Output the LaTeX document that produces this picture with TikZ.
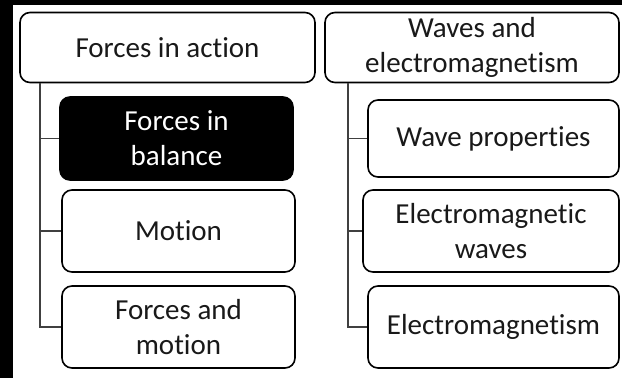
\documentclass[tikz,border=0pt]{standalone}
\usepackage{fontspec}
\setmainfont{Carlito}[Ligatures={NoCommon}]
\begin{document}
\begin{tikzpicture}[x=1pt,y=-1pt,
  box/.style={draw=black,line width=1.6pt,rounded corners=10pt,fill=white,align=center,
    font=\fontsize{29}{35}\selectfont,text=black!90,inner sep=0pt},
  dark/.style={box,fill=black,text=white},
  conn/.style={draw=black!75,line width=1.3pt}]
\useasboundingbox (0,0) rectangle (622,378);
\fill[black] (0,0) rectangle (622,378);
\fill[white] (13,5) rectangle (622,378);
% left column
\node[box,minimum width=295pt,minimum height=70pt] (fa) at (167.5,47.5) {Forces in action};
\node[dark,minimum width=233pt,minimum height=83pt] (fb) at (176.5,138.5) {Forces in\\balance};
\node[box,minimum width=233pt,minimum height=82pt] (mo) at (178.5,231) {Motion};
\node[box,minimum width=233pt,minimum height=82pt] (fm) at (178.5,327) {Forces and\\motion};
% right column
\node[box,minimum width=294pt,minimum height=70pt] (we) at (472,47.5) {Waves and\\electromagnetism};
\node[box,minimum width=251pt,minimum height=77pt] (wp) at (493.5,138.5) {Wave properties};
\node[box,minimum width=256pt,minimum height=82pt] (ew) at (491,231) {Electromagnetic\\waves};
\node[box,minimum width=251pt,minimum height=82pt] (em) at (493.5,327) {Electromagnetism};
% connectors
\coordinate (l0) at (40,0);
\draw[conn] (fa.south -| l0) |- (fm.west);
\draw[conn] (l0 |- fb.west) -- (fb.west);
\draw[conn] (l0 |- mo.west) -- (mo.west);
\coordinate (r0) at (348,0);
\draw[conn] (we.south -| r0) |- (em.west);
\draw[conn] (r0 |- wp.west) -- (wp.west);
\draw[conn] (r0 |- ew.west) -- (ew.west);
\end{tikzpicture}
\end{document}
